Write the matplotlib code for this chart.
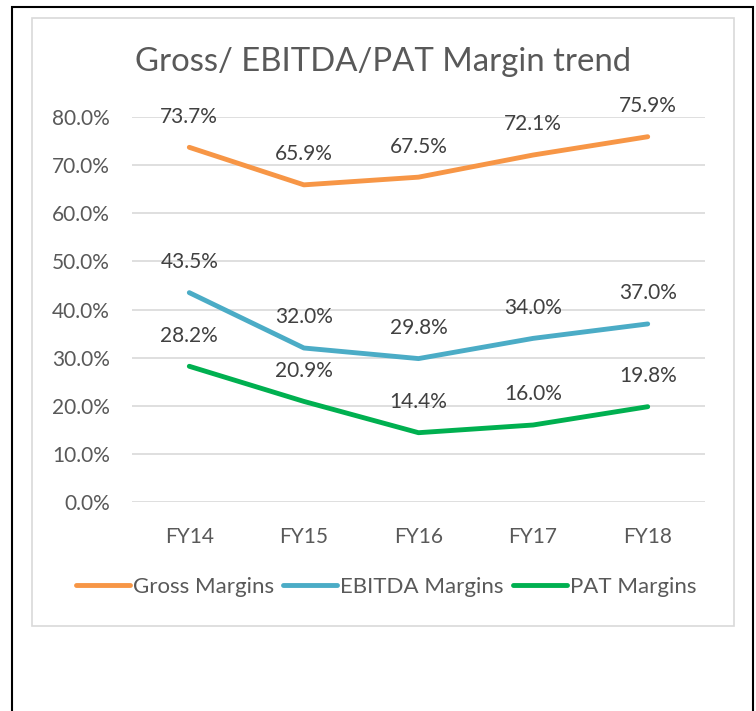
import numpy as np
import matplotlib.pyplot as plt
from matplotlib.patches import Rectangle

# data
years = ['FY14', 'FY15', 'FY16', 'FY17', 'FY18']
gross = [73.7, 65.9, 67.5, 72.1, 75.9]
ebitda = [43.5, 32.0, 29.8, 34.0, 37.0]
pat = [28.2, 20.9, 14.4, 16.0, 19.8]

plt.rcParams['font.family'] = ['Lato', 'DejaVu Sans']

W, H = 756, 711
fig = plt.figure(figsize=(W / 100, H / 100), dpi=100)

# outer black frame + inner grey chart border
fig.patches.append(Rectangle((12 / W, -0.05), 741 / W, 1.05 - 7 / H, transform=fig.transFigure,
                             fill=False, edgecolor='black', lw=1.5))
fig.patches.append(Rectangle((32 / W, 1 - 626 / H), 702 / W, 608 / H, transform=fig.transFigure,
                             fill=False, edgecolor='#D9D9D9', lw=1.2))

ax = fig.add_axes([132 / W, 1 - 502 / H, 573 / W, 385 / H])
x = np.arange(len(years))

series = [(gross, '#F79646', 'Gross Margins'),
          (ebitda, '#4BACC6', 'EBITDA Margins'),
          (pat, '#00B050', 'PAT Margins')]
for vals, col, name in series:
    ax.plot(x, vals, color=col, lw=3.5, label=name, solid_capstyle='round')
    for xi, v in zip(x, vals):
        ax.annotate(f'{v:.1f}%', (xi, v), xytext=(0, 22), textcoords='offset points',
                    ha='center', va='center', fontsize=15, color='#404040')

ax.set_xlim(-0.5, 4.5)
ax.set_ylim(0, 80)
ax.set_yticks(np.arange(0, 81, 10))
ax.set_yticklabels([f'{t:.1f}%' for t in np.arange(0, 81, 10)])
ax.set_xticks(x)
ax.set_xticklabels(years)
ax.tick_params(length=0, labelsize=15, labelcolor='#595959')
ax.tick_params(axis='y', pad=16)
ax.tick_params(axis='x', pad=18)
ax.grid(axis='y', color='#D9D9D9', lw=1.2)
ax.set_axisbelow(True)
for s in ax.spines.values():
    s.set_visible(False)

fig.text(383 / W, 1 - 62 / H, 'Gross/ EBITDA/PAT Margin trend', ha='center', va='center',
         fontsize=23.7, color='#595959')

fig.legend(loc='center', bbox_to_anchor=(386 / W, 1 - 587 / H), ncol=3, frameon=False,
           fontsize=16, labelcolor='#595959', handlelength=2.45, handletextpad=0.12,
           columnspacing=0.4)

plt.savefig('out.png', dpi=100)
